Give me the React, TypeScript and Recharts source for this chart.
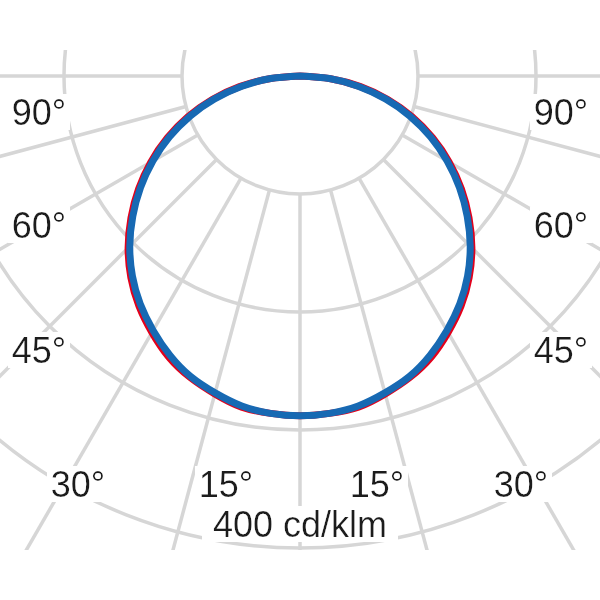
import React from 'react';
import { RadarChart, Radar, PolarGrid, PolarAngleAxis, PolarRadiusAxis, Curve } from 'recharts';

// gamma angles (deg from nadir), negative = left half
const gammaAngles = [
  -90, -85, -80, -75, -70, -65, -60, -55, -50, -45, -40, -35, -30, -25, -20, -15, -10, -5,
  0, 5, 10, 15, 20, 25, 30, 35, 40, 45, 50, 55, 60, 65, 70, 75, 80, 85, 90,
];
// C0-C180 plane (blue), cd/klm
const c0Values = [
  0, 25, 50, 75, 99, 122, 144, 165, 185, 204, 221, 236, 249, 261, 271, 278, 284, 287,
  288, 287, 284, 278, 271, 261, 249, 236, 221, 204, 185, 165, 144, 122, 99, 75, 50, 25, 0,
];
// C90-C270 plane (red), cd/klm
const c90Values = [
  0, 26, 52, 77, 101, 124, 146, 167, 187, 206, 223, 238, 251, 263, 272, 279, 285, 287,
  288, 287, 285, 279, 272, 263, 251, 238, 223, 206, 187, 167, 146, 124, 101, 77, 52, 26, 0,
];
// radial grid lines
const gridAngles = [-90, -75, -60, -45, -30, -15, 0, 15, 30, 45, 60, 75, 90];
// concentric rings, cd/klm
const ringValues = [100, 200, 300, 400, 500, 600];
// label texts
const labelTexts = ['90°', '90°', '60°', '60°', '45°', '45°', '30°', '15°', '15°', '30°', '400 cd/klm'];

const data = gammaAngles.map((a, i) => ({ angle: a, c0: c0Values[i], c90: c90Values[i] }));

const labelPos = [
  [39, 125], [561, 125],
  [39, 238], [561, 238],
  [39, 363], [561, 363],
  [78, 497], [226, 497], [377, 497], [521, 497],
  [300, 537],
];

const smoothShape = (color: string) => (p: any) => (
  <Curve
    points={p.points}
    type="natural"
    stroke={color}
    strokeWidth={7}
    strokeLinejoin="round"
    strokeLinecap="round"
    fill="none"
  />
);

export default function App() {
  return (
    <div
      style={{
        position: 'absolute',
        left: 0,
        top: 0,
        width: 600,
        height: 600,
        background: '#fff',
        clipPath: 'inset(50px 0px 50px 0px)',
      }}
    >
      <RadarChart
        width={600}
        height={600}
        data={data}
        cx={300}
        cy={76}
        innerRadius={118}
        outerRadius={708}
        startAngle={-270}
        endAngle={90}
        margin={{ top: 0, right: 0, bottom: 0, left: 0 }}
      >
        <defs>
          <filter id="labelBg" x="-0.06" y="0.065" width="1.12" height="0.85">
            <feFlood floodColor="#ffffff" />
            <feComposite in="SourceGraphic" operator="over" />
          </filter>
        </defs>
        <PolarGrid gridType="circle" stroke="#d6d6d6" strokeWidth={3.5} />
        <PolarAngleAxis
          type="number"
          dataKey="angle"
          domain={[-180, 180]}
          ticks={gridAngles}
          tick={false}
          tickLine={false}
          axisLine={false}
        />
        <PolarRadiusAxis
          type="number"
          domain={[100, 600]}
          ticks={ringValues}
          tickCount={6}
          allowDataOverflow
          tick={false}
          axisLine={false}
        />
        <Radar
          dataKey="c90"
          stroke="#e3001b"
          fill="none"
          fillOpacity={0}
          dot={false}
          shape={smoothShape('#e3001b')}
          isAnimationActive={false}
        />
        <Radar
          dataKey="c0"
          stroke="#1769b3"
          fill="none"
          fillOpacity={0}
          dot={false}
          shape={smoothShape('#1769b3')}
          isAnimationActive={false}
        />
        {labelTexts.map((t, i) => (
          <text
            key={i}
            x={labelPos[i][0]}
            y={labelPos[i][1]}
            textAnchor="middle"
            fontFamily="'Liberation Sans', Arial, sans-serif"
            fontSize={36}
            fill="#1a1a1a"
            filter="url(#labelBg)"
          >
            {t}
          </text>
        ))}
      </RadarChart>
    </div>
  );
}
